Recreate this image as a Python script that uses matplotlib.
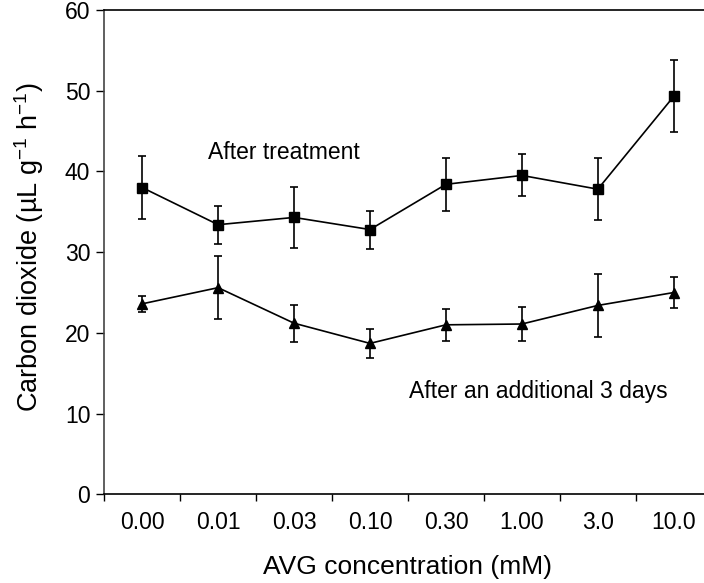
import matplotlib
matplotlib.use("Agg")
import matplotlib.pyplot as plt
import numpy as np

# AVG concentrations (mM), shown as categories
conc_labels = ["0.00", "0.01", "0.03", "0.10", "0.30", "1.00", "3.0", "10.0"]

# CO2 after treatment (squares)
after_treat = [38.0, 33.4, 34.3, 32.8, 38.4, 39.5, 37.8, 49.3]
after_treat_err = [3.9, 2.35, 3.75, 2.35, 3.25, 2.6, 3.85, 4.45]

# CO2 after an additional 3 days (triangles)
after_3d = [23.6, 25.6, 21.2, 18.7, 21.0, 21.1, 23.4, 25.0]
after_3d_err = [1.0, 3.9, 2.3, 1.75, 1.95, 2.15, 3.9, 1.9]

plt.rcParams['font.family'] = ['Liberation Sans', 'DejaVu Sans']

fig = plt.figure(figsize=(7.04, 5.83), dpi=100)
ax = fig.add_axes([0.148, 0.152, 0.863, 0.831])

x = np.arange(len(conc_labels)) + 0.5

ax.errorbar(x, after_treat, yerr=after_treat_err, color='black', marker='s',
            markersize=6.5, linewidth=1.2, elinewidth=1.2, capsize=3, capthick=1.2)
ax.errorbar(x, after_3d, yerr=after_3d_err, color='black', marker='^',
            markersize=6.5, linewidth=1.2, elinewidth=1.2, capsize=3, capthick=1.2)

ax.set_xlim(0, len(conc_labels))
ax.set_ylim(0, 60)
ax.set_yticks(range(0, 61, 10))
ax.set_xticks(np.arange(len(conc_labels) + 1))
ax.set_xticklabels([])
ax.set_xticks(x, minor=True)
ax.set_xticklabels(conc_labels, minor=True)
ax.tick_params(axis='x', which='minor', length=0, pad=12, labelsize=16.5)
ax.tick_params(axis='x', which='major', direction='out', length=5, width=1)
ax.tick_params(axis='y', direction='out', length=6, width=1, labelsize=16.5, pad=4)

for side in ['left', 'bottom', 'top', 'right']:
    ax.spines[side].set_linewidth(1.2)
ax.spines['left'].set_color('#444444')

ax.text(1.37, 42.4, "After treatment", fontsize=16.5, va='center', ha='left')
ax.text(4.01, 12.7, "After an additional 3 days", fontsize=16.5, va='center', ha='left')

ax.set_xlabel("AVG concentration (mM)", fontsize=19, labelpad=15)
ax.set_ylabel(r"Carbon dioxide (µL g$^{\mathregular{-1}}$ h$^{\mathregular{-1}}$)", fontsize=19.5)
ax.yaxis.set_label_coords(-0.095, 0.51)

fig.savefig("out.png", dpi=100)
